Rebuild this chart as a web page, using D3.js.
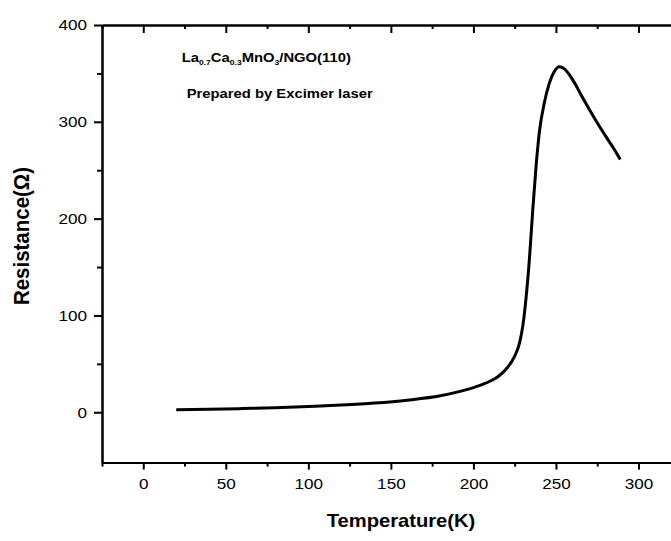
<!DOCTYPE html>
<html>
<head>
<meta charset="utf-8">
<script src="https://cdn.jsdelivr.net/npm/d3@7"></script>
<style>
  html, body { margin: 0; padding: 0; background: #fff; overflow: hidden; }
  svg { display: block; font-family: Arial, "Liberation Sans", sans-serif; }
</style>
</head>
<body>
<div id="chart"></div>
<script>
// 数据：温度 (K) 与电阻 (Ω)
const temperature = [20, 40, 60, 80, 100, 120, 140, 160, 180, 190, 200, 210, 215, 220, 225, 228, 230, 232, 234, 236, 238, 240, 243, 246, 249, 252, 255, 258, 261, 265, 270, 275, 280, 285, 289];
const resistance  = [2.5, 3, 3.8, 4.7, 6, 7.5, 9.5, 12.5, 17, 20.8, 25.5, 32, 37, 45, 58, 72, 90, 120, 160, 210, 255, 290, 320, 340, 352, 357, 355, 349, 341, 328.5, 313.5, 299, 285.5, 272.5, 261];
const xMajorTicks = [0, 50, 100, 150, 200, 250, 300];
const xMinorTicks = [-25, 25, 75, 125, 175, 225, 275, 325];
const yMajorTicks = [0, 100, 200, 300, 400];
const yMinorTicks = [50, 150, 250, 350];

const width = 671, height = 541;
const stretch = 1.14; // 原图横向略拉伸

const svg = d3.select("#chart").append("svg")
  .attr("width", width).attr("height", height);

const x = d3.scaleLinear().domain([-25, 330]).range([102, 688]);
const y = d3.scaleLinear().domain([-52, 400]).range([462.6, 25]);

function styleAxis(g) {
  g.selectAll("path.domain").attr("stroke", "#000").attr("stroke-width", 2);
  g.selectAll("line").attr("stroke", "#000").attr("stroke-width", 2);
}

// 底部坐标轴
const xBottom = svg.append("g").attr("transform", `translate(0,${y(-52)})`);
xBottom.append("g").call(d3.axisBottom(x).tickValues(xMinorTicks).tickSize(4).tickSizeOuter(0).tickFormat(""))
  .call(styleAxis);
xBottom.append("g").call(d3.axisBottom(x).tickValues(xMajorTicks).tickSize(7).tickSizeOuter(0).tickPadding(9))
  .call(styleAxis)
  .call(g => g.selectAll("text").attr("fill", "#000").attr("font-size", 15)
    .attr("transform", `scale(${stretch},1)`));

// 顶部坐标轴（刻度朝内）
const xTop = svg.append("g").attr("transform", `translate(0,${y(400)})`);
xTop.append("g").call(d3.axisTop(x).tickValues(xMinorTicks).tickSize(-4).tickSizeOuter(0).tickFormat(""))
  .call(styleAxis);
xTop.append("g").call(d3.axisTop(x).tickValues(xMajorTicks).tickSize(-8).tickSizeOuter(0).tickFormat(""))
  .call(styleAxis);

// 左侧坐标轴
const yLeft = svg.append("g").attr("transform", `translate(${x(-25)},0)`);
yLeft.append("g").call(d3.axisLeft(y).tickValues(yMinorTicks).tickSize(5).tickSizeOuter(0).tickFormat(""))
  .call(styleAxis);
yLeft.append("g").call(d3.axisLeft(y).tickValues(yMajorTicks).tickSize(8).tickSizeOuter(0).tickPadding(7))
  .call(styleAxis)
  .call(g => g.selectAll("text").each(function () {
    const t = d3.select(this);
    const tx = +t.attr("x");
    t.attr("x", 0).attr("fill", "#000").attr("font-size", 15)
      .attr("transform", `translate(${tx},0) scale(${stretch},1)`);
  }));

// 曲线
const pts = temperature.map((t, i) => [t, resistance[i]]);
const line = d3.line().x(d => x(d[0])).y(d => y(d[1])).curve(d3.curveMonotoneX);
svg.append("path").datum(pts)
  .attr("fill", "none").attr("stroke", "#000").attr("stroke-width", 3)
  .attr("stroke-linejoin", "round").attr("d", line);

// 标注文字
const note1 = svg.append("text")
  .attr("transform", `translate(181.7,61.7) scale(${stretch},1)`)
  .attr("font-size", 13).attr("font-weight", "bold");
[["La", 0], ["0.7", 1], ["Ca", 0], ["0.3", 1], ["MnO", 0], ["3", 1], ["/NGO(110)", 0]].forEach(([s, sub], i, arr) => {
  const prevSub = i > 0 ? arr[i - 1][1] : 0;
  note1.append("tspan")
    .attr("font-size", sub ? 7.5 : 13)
    .attr("dy", sub ? 3 : (prevSub ? -3 : 0))
    .text(s);
});

svg.append("text")
  .attr("transform", `translate(186.7,98.3) scale(${stretch},1)`)
  .attr("font-size", 13).attr("font-weight", "bold")
  .text("Prepared by Excimer laser");

// 坐标轴标题
svg.append("text")
  .attr("transform", `translate(401,526.7) scale(1.12,1)`)
  .attr("text-anchor", "middle").attr("font-size", 18).attr("font-weight", "bold")
  .text("Temperature(K)");

svg.append("text")
  .attr("transform", `translate(29,236) rotate(-90) scale(1,1.05)`)
  .attr("text-anchor", "middle").attr("font-size", 20.5).attr("font-weight", "bold")
  .text("Resistance(Ω)");
</script>
</body>
</html>
